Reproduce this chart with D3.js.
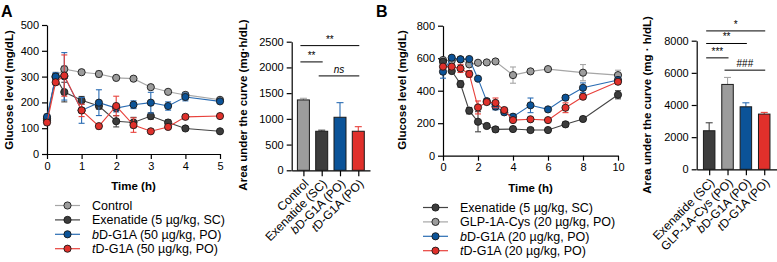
<!DOCTYPE html>
<html>
<head>
<meta charset="utf-8">
<script src="https://cdn.jsdelivr.net/npm/d3@7"></script>
<style>
body { margin: 0; background: #fff; }
text { font-family: "Liberation Sans", Arial, sans-serif; }
</style>
</head>
<body>
<div id="chart-area"></div>
<script>
// panel A glucose curves
var timesA = [0, 0.25, 0.5, 1, 1.5, 2, 2.5, 3, 3.5, 4, 5]
var controlA = [130, 302, 329, 317, 310, 295, 292, 259, 241, 229, 210]
var controlErrA = [10, 15, 12, 6, 12, 6, 6, 6, 6, 10, 6]
var exenA = [137, 297, 240, 208, 186, 127, 122, 147, 122, 99, 88]
var exenErrA = [10, 15, 38, 15, 12, 22, 20, 12, 10, 6, 6]
var bdA = [144, 300, 301, 169, 199, 178, 191, 199, 186, 221, 204]
var bdErrA = [10, 15, 92, 50, 50, 15, 15, 40, 16, 15, 8]
var tdA = [122, 278, 304, 169, 108, 186, 112, 88, 105, 144, 147]
var tdErrA = [8, 10, 80, 24, 10, 38, 28, 8, 8, 8, 8]
var legendA = ["Control", "Exenatide (5 µg/kg, SC)", "bD-G1A (50 µg/kg, PO)", "tD-G1A (50 µg/kg, PO)"]

// panel A AUC bars
var barCatsA = ["Control", "Exenatide (SC)", "bD-G1A (PO)", "tD-G1A (PO)"]
var barValsA = [1368, 759, 1031, 759]
var barErrA = [32, 21, 284, 89]
var sigA = [["Control", "tD-G1A (PO)", 2424, "**", false],
            ["Control", "Exenatide (SC)", 2107, "**", false],
            ["Exenatide (SC)", "tD-G1A (PO)", 1835, "ns", true]]

// panel B glucose curves (null = not measured)
var timesB = [0, 0.5, 1, 1.5, 2, 2.5, 3, 3.5, 4, 5, 6, 7, 8, 10]
var exenB = [578, 521, 441, 277, 209, 183, 162, null, 164, 158, 158, 193, 226, 375]
var exenErrB = [15, 12, 20, 20, 62, 12, 15, null, 15, 12, 12, 15, 15, 25]
var glpB = [589, 585, 593, 562, 572, 574, 580, null, 496, 519, 533, null, 511, 496]
var glpErrB = [10, 10, 10, 10, 10, 10, 10, null, 50, 10, 10, null, 50, 30]
var bdB = [517, 603, 593, 595, 474, 336, 302, 267, 240, 310, 285, 357, 418, 466]
var bdErrB = [40, 10, 10, 10, 10, 15, 20, 15, 15, 45, 10, 12, 30, 20]
var tdB = [548, 548, 537, 503, 297, 330, 325, 281, 219, 224, 219, 295, 363, 455]
var tdErrB = [15, 15, 25, 20, 40, 15, 30, 15, 10, 10, 10, 30, 15, 15]
var legendB = ["Exenatide (5 µg/kg, SC)", "GLP-1A-Cys (20 µg/kg, PO)", "bD-G1A (20 µg/kg, PO)", "tD-G1A (20 µg/kg, PO)"]

// panel B AUC bars
var barCatsB = ["Exenatide (SC)", "GLP-1A-Cys (PO)", "bD-G1A (PO)", "tD-G1A (PO)"]
var barValsB = [2398, 5280, 3888, 3435]
var barErrB = [496, 434, 249, 105]
var sigB = [["Exenatide (SC)", "tD-G1A (PO)", 8609, "*"],
            ["Exenatide (SC)", "bD-G1A (PO)", 7826, "**"],
            ["Exenatide (SC)", "GLP-1A-Cys (PO)", 6932, "***"],
            ["GLP-1A-Cys (PO)", "tD-G1A (PO)", 6168, "###"]]

var GRAY = {fill: "#9c9c9c", line: "#a6a6a6"}
var DARK = {fill: "#3c3c3c", line: "#444444"}
var BLUE = {fill: "#0b5398", line: "#2a6cb3"}
var RED = {fill: "#e0302b", line: "#e8413b"}

var svg = d3.select("#chart-area").append("svg")
.attr("width", 777)
.attr("height", 262)

// text with italic first letter for bD / tD names
var richText = (sel, label) => {
	if (/^[bt]D/.test(label)) {
		sel.append("tspan").style("font-style", "italic").text(label[0])
		sel.append("tspan").text(label.slice(1))
	} else {
		sel.text(label)
	}
}

var styleAxis = (grp) => {
	grp.selectAll("path, line").attr("stroke", "#000").attr("stroke-width", 1.2)
	grp.selectAll("text").attr("font-size", "11px").attr("fill", "#000")
		.style("font-family", "'Liberation Sans', Arial, sans-serif")
}

var linePanel = (cfg) => {
	var x = d3.scaleLinear().domain(cfg.xDomain).range(cfg.xRange)
	var y = d3.scaleLinear().domain(cfg.yDomain).range(cfg.yRange)

	var xAxis = svg.append("g")
	.attr("transform", "translate(0, " + cfg.yRange[0] + ")")
	.call(d3.axisBottom(x).tickValues(cfg.xTicks).tickFormat(d3.format("d"))
		.tickSize(5).tickSizeOuter(0).tickPadding(3))
	styleAxis(xAxis)

	var yAxis = svg.append("g")
	.attr("transform", "translate(" + cfg.xRange[0] + ", 0)")
	.call(d3.axisLeft(y).tickValues(cfg.yTicks).tickFormat(d3.format("d"))
		.tickSize(5).tickSizeOuter(0).tickPadding(3))
	styleAxis(yAxis)

	svg.append("text")
	.attr("x", (cfg.xRange[0] + cfg.xRange[1]) / 2)
	.attr("y", cfg.yRange[0] + 36)
	.attr("text-anchor", "middle")
	.attr("font-size", "11.5px")
	.attr("font-weight", "bold")
	.text("Time (h)")

	svg.append("text")
	.attr("transform", "translate(" + cfg.yLabelX + ", 90) rotate(-90)")
	.attr("text-anchor", "middle")
	.attr("font-size", "11.5px")
	.attr("font-weight", "bold")
	.text("Glucose level (mg/dL)")

	var line = d3.line().x(d => x(d.t)).y(d => y(d.v))

	cfg.series.forEach(s => {
		var pts = cfg.times.map((t, i) => ({t: t, v: s.values[i], e: s.errs[i]}))
			.filter(d => d.v != null)
		var g = svg.append("g")
		g.append("path")
		.datum(pts)
		.attr("d", line)
		.attr("fill", "none")
		.attr("stroke", s.color.line)
		.attr("stroke-width", 1.1)

		var eb = g.selectAll(".err").data(pts).enter().append("g")
		.attr("stroke", s.color.line)
		.attr("stroke-width", 1.1)
		eb.append("line")
		.attr("x1", d => x(d.t)).attr("x2", d => x(d.t))
		.attr("y1", d => y(d.v - d.e)).attr("y2", d => y(d.v + d.e))
		eb.append("line")
		.attr("x1", d => x(d.t) - 3).attr("x2", d => x(d.t) + 3)
		.attr("y1", d => y(d.v + d.e)).attr("y2", d => y(d.v + d.e))
		eb.append("line")
		.attr("x1", d => x(d.t) - 3).attr("x2", d => x(d.t) + 3)
		.attr("y1", d => y(d.v - d.e)).attr("y2", d => y(d.v - d.e))

		g.selectAll("circle").data(pts).enter().append("circle")
		.attr("cx", d => x(d.t))
		.attr("cy", d => y(d.v))
		.attr("r", 3.6)
		.attr("fill", s.color.fill)
		.attr("stroke", "#1a1a1a")
		.attr("stroke-width", 0.9)
	})

	// legend (own order)
	cfg.legend.forEach((s, i) => {
		var ly = cfg.legendY + i * 14.4
		var lg = svg.append("g")
		lg.append("line")
		.attr("x1", cfg.legendX).attr("x2", cfg.legendX + 25)
		.attr("y1", ly).attr("y2", ly)
		.attr("stroke", s.color.line)
		.attr("stroke-width", 1.2)
		lg.append("circle")
		.attr("cx", cfg.legendX + 12.5).attr("cy", ly)
		.attr("r", 3.6)
		.attr("fill", s.color.fill)
		.attr("stroke", "#1a1a1a")
		.attr("stroke-width", 0.9)
		lg.append("text")
		.attr("x", cfg.legendX + 37)
		.attr("y", ly + 4.3)
		.attr("font-size", "12.5px")
		.call(richText, s.name)
	})
}

var barPanel = (cfg) => {
	var x = d3.scalePoint().domain(cfg.cats).range(cfg.xRange).padding(cfg.padding)
	var y = d3.scaleLinear().domain(cfg.yDomain).range(cfg.yRange)

	var xAxis = svg.append("g")
	.attr("transform", "translate(0, " + cfg.yRange[0] + ")")
	.call(d3.axisBottom(x).tickSize(6).tickSizeOuter(0).tickFormat(""))
	styleAxis(xAxis)

	var yAxis = svg.append("g")
	.attr("transform", "translate(" + cfg.xRange[0] + ", 0)")
	.call(d3.axisLeft(y).tickValues(cfg.yTicks).tickFormat(d3.format("d"))
		.tickSize(5).tickSizeOuter(0).tickPadding(3))
	styleAxis(yAxis)

	cfg.cats.forEach(c => {
		svg.append("text")
		.attr("transform", "translate(" + (x(c) + 6) + ", " + (cfg.yRange[0] + 14) + ") rotate(-45)")
		.attr("text-anchor", "end")
		.attr("font-size", "12px")
		.call(richText, c)
	})

	svg.append("text")
	.attr("transform", "translate(" + cfg.yLabelX + ", 105) rotate(-90)")
	.attr("text-anchor", "middle")
	.attr("font-size", "11.5px")
	.attr("font-weight", "bold")
	.text(cfg.yLabel)

	var bars = cfg.cats.map((c, i) => ({c: c, v: cfg.values[i], e: cfg.errs[i], col: cfg.colors[i]}))

	svg.selectAll(".eb" + cfg.id).data(bars).enter().append("g")
	.attr("stroke", d => d.col.line)
	.attr("stroke-width", 1.1)
	.each(function(d) {
		var g = d3.select(this)
		g.append("line")
		.attr("x1", x(d.c)).attr("x2", x(d.c))
		.attr("y1", y(d.v)).attr("y2", y(d.v + d.e))
		g.append("line")
		.attr("x1", x(d.c) - 3.5).attr("x2", x(d.c) + 3.5)
		.attr("y1", y(d.v + d.e)).attr("y2", y(d.v + d.e))
	})

	svg.selectAll(".bar" + cfg.id).data(bars).enter().append("rect")
	.attr("x", d => x(d.c) - cfg.barWidth / 2)
	.attr("width", cfg.barWidth)
	.attr("y", d => y(d.v))
	.attr("height", d => y(0) - y(d.v))
	.attr("fill", d => d.col.fill)
	.attr("stroke", "#1a1a1a")
	.attr("stroke-width", 1)

	cfg.sig.forEach(s => {
		var x1 = x(s[0]) - 3
		var x2 = x(s[1]) + 1
		svg.append("line")
		.attr("x1", x1).attr("x2", x2)
		.attr("y1", y(s[2])).attr("y2", y(s[2]))
		.attr("stroke", "#000")
		.attr("stroke-width", 1)
		svg.append("text")
		.attr("x", (x1 + x2) / 2)
		.attr("y", y(s[2]) - 3)
		.attr("text-anchor", "middle")
		.attr("font-size", "10px")
		.style("font-style", s[4] ? "italic" : "normal")
		.text(s[3])
	})
}

var seriesA = [
	{name: legendA[0], values: controlA, errs: controlErrA, color: GRAY},
	{name: legendA[1], values: exenA, errs: exenErrA, color: DARK},
	{name: legendA[2], values: bdA, errs: bdErrA, color: BLUE},
	{name: legendA[3], values: tdA, errs: tdErrA, color: RED}
]

linePanel({
	xDomain: [0, 5], xRange: [47, 220], xTicks: [0, 1, 2, 3, 4, 5],
	yDomain: [0, 500], yRange: [154, 25], yTicks: [0, 100, 200, 300, 400, 500],
	yLabelX: 13, times: timesA,
	legendX: 55, legendY: 205.5,
	series: seriesA, legend: seriesA
})

barPanel({
	id: "A", cats: barCatsA, values: barValsA, errs: barErrA,
	colors: [GRAY, DARK, BLUE, RED],
	xRange: [291.7, 370], padding: 0.64, barWidth: 12,
	yDomain: [0, 2500], yRange: [170.3, 41.7], yTicks: [0, 500, 1000, 1500, 2000, 2500],
	yLabelX: 247, yLabel: "Area under the curve (mg·h/dL)", sig: sigA
})

var exenSeriesB = {name: legendB[0], values: exenB, errs: exenErrB, color: DARK}
var glpSeriesB = {name: legendB[1], values: glpB, errs: glpErrB, color: GRAY}
var bdSeriesB = {name: legendB[2], values: bdB, errs: bdErrB, color: BLUE}
var tdSeriesB = {name: legendB[3], values: tdB, errs: tdErrB, color: RED}

linePanel({
	xDomain: [0, 10], xRange: [443, 618], xTicks: [0, 2, 4, 6, 8, 10],
	yDomain: [0, 800], yRange: [155.7, 25.7], yTicks: [0, 200, 400, 600, 800],
	yLabelX: 406, times: timesB,
	legendX: 423, legendY: 207.5,
	series: [glpSeriesB, exenSeriesB, bdSeriesB, tdSeriesB],
	legend: [exenSeriesB, glpSeriesB, bdSeriesB, tdSeriesB]
})

barPanel({
	id: "B", cats: barCatsB, values: barValsB, errs: barErrB,
	colors: [DARK, GRAY, BLUE, RED],
	xRange: [696.7, 776.7], padding: 0.68, barWidth: 11.5,
	yDomain: [0, 8000], yRange: [169.3, 40.7], yTicks: [0, 2000, 4000, 6000, 8000],
	yLabelX: 651, yLabel: "Area under the curve (mg · h/dL)", sig: sigB
})

// panel letters
svg.append("text").attr("x", 1).attr("y", 17)
.attr("font-size", "16px").attr("font-weight", "bold").text("A")
svg.append("text").attr("x", 376).attr("y", 17)
.attr("font-size", "16px").attr("font-weight", "bold").text("B")
</script>
</body>
</html>
